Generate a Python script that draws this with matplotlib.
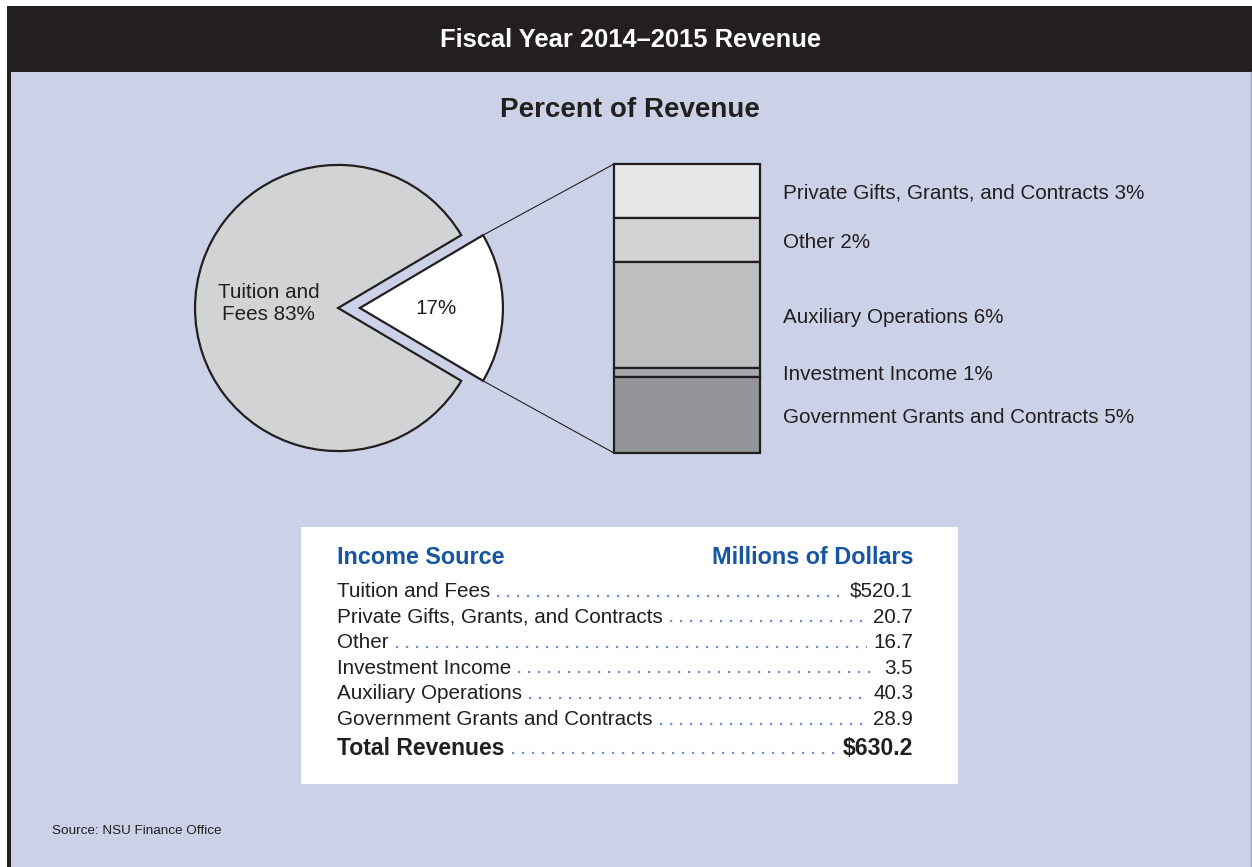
import matplotlib
matplotlib.use("Agg")
import matplotlib.pyplot as plt
from matplotlib.patches import Rectangle
from matplotlib.transforms import blended_transform_factory
import numpy as np

plt.rcParams['font.family'] = ['Liberation Sans', 'DejaVu Sans']

# ---------------- data ----------------
title = "Fiscal Year 2014\u20132015 Revenue"
subtitle = "Percent of Revenue"

pie_labels = ["Tuition and\nFees 83%", "17%"]
pie_values = [83, 17]

bar_names = ["Private Gifts, Grants, and Contracts", "Other", "Auxiliary Operations",
             "Investment Income", "Government Grants and Contracts"]
bar_pct = [3, 2, 6, 1, 5]
bar_dollars = [20.7, 16.7, 40.3, 3.5, 28.9]
bar_colors = ["#E6E7E8", "#D1D3D4", "#BCBEC0", "#A7A9AC", "#939598"]

table_sources = ["Tuition and Fees", "Private Gifts, Grants, and Contracts", "Other",
                 "Investment Income", "Auxiliary Operations", "Government Grants and Contracts"]
table_values = [520.1, 20.7, 16.7, 3.5, 40.3, 28.9]
source_note = "Source: NSU Finance Office"

# ---------------- style ----------------
W, H = 1252, 867
DARK = "#231F20"
BG = "#CBD2E7"
BLUE = "#1655A2"
DOT = "#6F90CC"
FS = 14.9

fig = plt.figure(figsize=(W / 100, H / 100), dpi=100)
fig.patch.set_facecolor("white")

ax = fig.add_axes([0, 0, 1, 1])
ax.set_xlim(0, W)
ax.set_ylim(H, 0)
ax.axis("off")

# frame
ax.add_patch(Rectangle((7, 6), W - 7, H - 6, facecolor=BG, edgecolor="none", zorder=0))
ax.add_patch(Rectangle((7, 6), W - 7, 66, facecolor=DARK, edgecolor="none", zorder=1))
ax.add_patch(Rectangle((7, 6), 3.5, H - 6, facecolor=DARK, edgecolor="none", zorder=1))
ax.plot([W - 1, W - 1], [72, H], color="#9AA0B8", lw=1, zorder=1)

ax.text(631, 40, title, color="white", fontsize=18.4, fontweight="bold",
        ha="center", va="center", zorder=2)
ax.text(630, 110, subtitle, color=DARK, fontsize=20.0, fontweight="bold",
        ha="center", va="center", zorder=2)

# ---------------- pie ----------------
CX, CY, R = 338, 308, 144.5
expl = 0.152
ax_pie = fig.add_axes([(CX - R) / W, 1 - (CY + R) / H, R * (2 + expl) / W, 2 * R / H])
startangle = 360 * pie_values[1] / sum(pie_values) / 2
wedges, _ = ax_pie.pie(pie_values, explode=[0, expl], startangle=startangle,
                       colors=["#D1D3D4", "white"], counterclock=True,
                       wedgeprops=dict(edgecolor=DARK, linewidth=1.6, joinstyle="miter"))
ax_pie.set_xlim(-1.01, 1 + expl + 0.01)
ax_pie.set_ylim(-1.01, 1.01)
ax_pie.axis("off")
ax_pie.text(-0.484, 0.03, pie_labels[0], fontsize=FS, color=DARK, ha="center", va="center",
            linespacing=1.2)
ax_pie.text(0.685, 0.0, pie_labels[1], fontsize=FS, color=DARK, ha="center", va="center")

# ---------------- bar ----------------
BX0, BX1, BY0, BY1 = 614, 760, 164, 453
ax_bar = fig.add_axes([BX0 / W, 1 - BY1 / H, (BX1 - BX0) / W, (BY1 - BY0) / H])
total_bar = sum(bar_dollars)
bottoms = np.concatenate([[0], np.cumsum(bar_dollars)[:-1]])
ax_bar.bar([0] * len(bar_dollars), bar_dollars, bottom=bottoms, width=1.0,
           color=bar_colors, edgecolor=DARK, linewidth=1.6)
ax_bar.set_xlim(-0.5, 0.5)
ax_bar.set_ylim(total_bar, 0)
ax_bar.axis("off")
for a in (ax_pie, ax_bar):
    for c in a.get_children():
        if hasattr(c, "set_clip_on"):
            c.set_clip_on(False)

trans = blended_transform_factory(ax_bar.transAxes, ax_bar.transData)
for name, pct, b, v in zip(bar_names, bar_pct, bottoms, bar_dollars):
    ax_bar.text((783 - BX0) / (BX1 - BX0), b + v / 2, f"{name} {pct}%", transform=trans,
                fontsize=FS, color=DARK, ha="left", va="center_baseline")

# connector lines
fig.canvas.draw()
inv = ax.transData.inverted()
half = np.deg2rad(startangle)
p_top = inv.transform(ax_pie.transData.transform((expl + np.cos(half), np.sin(half))))
p_bot = inv.transform(ax_pie.transData.transform((expl + np.cos(half), -np.sin(half))))
b_top = inv.transform(ax_bar.transData.transform((-0.5, 0)))
b_bot = inv.transform(ax_bar.transData.transform((-0.5, total_bar)))
ax.plot([p_top[0], b_top[0]], [p_top[1], b_top[1]], color=DARK, lw=0.8, zorder=3)
ax.plot([p_bot[0], b_bot[0]], [p_bot[1], b_bot[1]], color=DARK, lw=0.8, zorder=3)

# ---------------- table ----------------
ax.add_patch(Rectangle((301, 527), 657, 257, facecolor="white", edgecolor="none", zorder=1))
TL, TR = 337, 913
ax.text(TL, 564, "Income Source", fontsize=16.8, fontweight="bold", color=BLUE,
        ha="left", va="baseline", zorder=2)
ax.text(TR, 564, "Millions of Dollars", fontsize=16.8, fontweight="bold", color=BLUE,
        ha="right", va="baseline", zorder=2)

renderer = fig.canvas.get_renderer()


def leader(t_left, t_right, y):
    e1 = inv.transform(t_left.get_window_extent(renderer=renderer))
    e2 = inv.transform(t_right.get_window_extent(renderer=renderer))
    x0 = max(e1[:, 0]) + 7
    x1 = min(e2[:, 0]) - 6
    ax.plot([x0, x1], [y - 1.5, y - 1.5], color=DOT, lw=1.6, linestyle=(0, (1, 3.5)),
            dash_capstyle="butt", zorder=2)


row_y0, row_dy = 597, 25.6
for i, (src, val) in enumerate(zip(table_sources, table_values)):
    y = row_y0 + i * row_dy
    vtxt = f"${val:.1f}" if i == 0 else f"{val:.1f}"
    t1 = ax.text(TL, y, src, fontsize=FS, color=DARK, ha="left", va="baseline", zorder=2)
    t2 = ax.text(TR, y, vtxt, fontsize=FS, color=DARK, ha="right", va="baseline", zorder=2)
    leader(t1, t2, y)

y_tot = row_y0 + len(table_sources) * row_dy + 4
t1 = ax.text(TL, y_tot, "Total Revenues", fontsize=16.6, fontweight="bold", color=DARK,
             ha="left", va="baseline", zorder=2)
t2 = ax.text(TR, y_tot, f"${sum(table_values):.1f}", fontsize=16.6, fontweight="bold",
             color=DARK, ha="right", va="baseline", zorder=2)
leader(t1, t2, y_tot)

ax.text(52, 831, source_note, fontsize=9.7, color=DARK, ha="left", va="center", zorder=2)

fig.savefig("out.png", dpi=100, facecolor=fig.get_facecolor())
